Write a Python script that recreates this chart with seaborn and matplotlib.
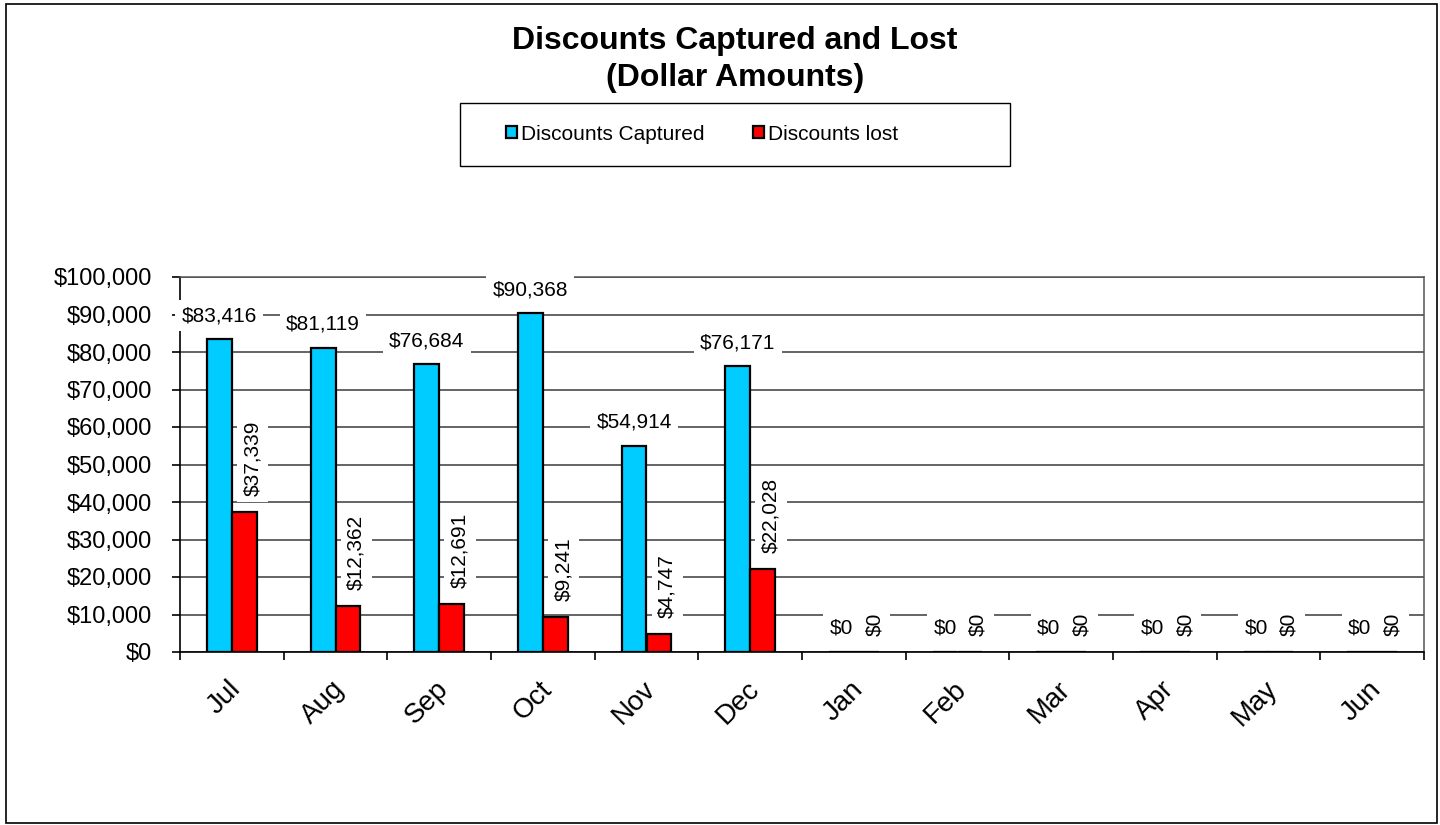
#!/usr/bin/env python3
"""
Discounts captured vs lost, by month (dollar amounts).
Output: out.png
"""
import numpy as np
import pandas as pd
import matplotlib
matplotlib.use('Agg')
import matplotlib.pyplot as plt
from matplotlib.patches import Patch, Rectangle
from matplotlib.ticker import FuncFormatter
from matplotlib.transforms import ScaledTranslation
import seaborn as sns

# data
months = ['Jul', 'Aug', 'Sep', 'Oct', 'Nov', 'Dec',
          'Jan', 'Feb', 'Mar', 'Apr', 'May', 'Jun']
captured = [83416, 81119, 76684, 90368, 54914, 76171, 0, 0, 0, 0, 0, 0]
lost = [37339, 12362, 12691, 9241, 4747, 22028, 0, 0, 0, 0, 0, 0]
series_names = ['Discounts Captured', 'Discounts lost']
y_ticks = list(range(0, 100001, 10000))

CYAN = '#00CCFF'
RED = '#FF0000'

sns.set_style('white')
plt.rcParams.update({
    'font.family': ['Liberation Sans', 'DejaVu Sans'],
    'font.size': 15,
    'text.color': 'black',
    'axes.labelcolor': 'black',
    'xtick.color': 'black',
    'ytick.color': 'black',
    'axes.linewidth': 1.2,
})


def dollars(v, _pos=None):
    return f'${v:,.0f}'


def main():
    df = pd.DataFrame({
        'Month': months * 2,
        'Series': [series_names[0]] * len(months) + [series_names[1]] * len(months),
        'Amount': captured + lost,
    })

    fig = plt.figure(figsize=(14.4, 8.25), dpi=100)
    ax = fig.add_axes([180 / 1440, 1 - 652 / 825, 1244 / 1440, 375 / 825])

    sns.barplot(data=df, x='Month', y='Amount', hue='Series', order=months,
                hue_order=series_names, palette=[CYAN, RED], saturation=1,
                width=0.48, edgecolor='black', linewidth=1.6, legend=False,
                errorbar=None, ax=ax, zorder=2)

    ax.set_xlim(-0.5, len(months) - 0.5)
    ax.set_ylim(0, 100000)
    ax.set_yticks(y_ticks)
    ax.yaxis.set_major_formatter(FuncFormatter(dollars))
    ax.set_xlabel('')
    ax.set_ylabel('')

    # gridlines + spines (Excel look)
    ax.yaxis.grid(True, color='#3a3a3a', linewidth=1.1)
    ax.set_axisbelow(True)
    for side in ['left', 'bottom']:
        ax.spines[side].set_color('black')
    for side in ['top', 'right']:
        ax.spines[side].set_color('#555555')
        ax.spines[side].set_linewidth(1.1)

    ax.tick_params(axis='y', length=6, width=1.2, pad=14, labelsize=17,
                   direction='out', left=True)
    ax.set_xticks(np.arange(-0.5, len(months), 1), minor=True)
    ax.tick_params(axis='x', which='minor', length=6, width=1.2,
                   direction='out', bottom=True)
    ax.tick_params(axis='x', which='major', length=0, pad=24, labelsize=20)
    shift = ScaledTranslation(5 / 100, 0, fig.dpi_scale_trans)
    for lbl in ax.get_xticklabels():
        lbl.set_rotation(45)
        lbl.set_ha('right')
        lbl.set_va('center')
        lbl.set_rotation_mode('anchor')
        lbl.set_transform(lbl.get_transform() + shift)

    # value labels
    box = dict(boxstyle='square,pad=0.3', fc='white', ec='none')
    for bar in ax.containers[0]:
        h = bar.get_height()
        ax.annotate(dollars(h), (bar.get_x() + bar.get_width() / 2, h),
                    xytext=(0, 17), textcoords='offset points',
                    ha='center', va='center', fontsize=15, bbox=box, zorder=4)
    for bar in ax.containers[1]:
        h = bar.get_height()
        ax.annotate(dollars(h), (bar.get_x() + bar.get_width() / 2, h),
                    xytext=(6, 11.5), textcoords='offset points', rotation=90,
                    ha='center', va='bottom', fontsize=15, bbox=box, zorder=4)

    # title
    fig.text(735 / 1440, 1 - 26 / 825,
             'Discounts Captured and Lost\n(Dollar Amounts)',
             ha='center', va='top', fontsize=23, fontweight='bold',
             linespacing=1.3)

    # legend with its own frame
    handles = [Patch(facecolor=c, edgecolor='black', linewidth=1.6)
               for c in [CYAN, RED]]
    fig.legend(handles, series_names, loc='center',
               bbox_to_anchor=(702 / 1440, 1 - 134 / 825), ncol=2,
               frameon=False, fontsize=15, handlelength=0.55,
               handleheight=0.55, handletextpad=0.2, columnspacing=2.3)
    fig.patches.append(Rectangle((460 / 1440, 1 - 166 / 825), 550 / 1440, 63 / 825,
                                 transform=fig.transFigure, fill=False,
                                 edgecolor='black', linewidth=1.0))

    # outer chart border
    fig.patches.append(Rectangle((6 / 1440, 2 / 825), 1431 / 1440, 819 / 825,
                                 transform=fig.transFigure, fill=False,
                                 edgecolor='black', linewidth=1.2))

    fig.savefig('out.png', dpi=100)
    plt.close(fig)


if __name__ == '__main__':
    main()
